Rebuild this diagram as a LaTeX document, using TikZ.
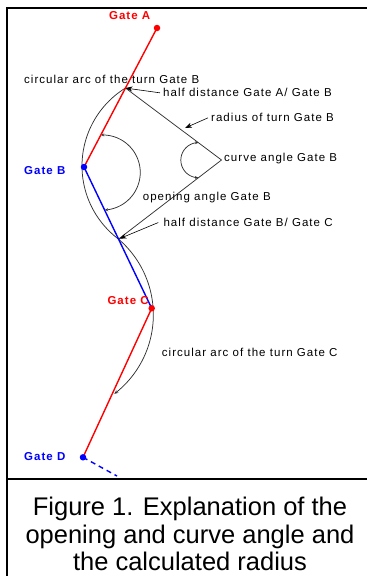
\documentclass[tikz,border=0pt]{standalone}
\usepackage{fontspec}
\setmainfont{Liberation Sans}
\newfontfamily\lblfont[LetterSpace=9]{Liberation Sans}
\usetikzlibrary{arrows.meta,calc}
\definecolor{gred}{RGB}{255,0,0}
\definecolor{gblue}{RGB}{0,0,255}
\definecolor{arcgray}{RGB}{50,50,50}
\begin{document}
\begin{tikzpicture}[x=1pt,y=-1pt,
  lbl/.style={anchor=mid west, inner sep=0pt, font=\fontsize{11.5}{13}\selectfont\lblfont},
  gatelbl/.style={inner sep=0pt, font=\fontsize{11.5}{13}\selectfont\lblfont\bfseries},
  gdot/.style={circle, inner sep=0pt, minimum size=6.5pt},
  route/.style={line width=1.4pt},
  arcline/.style={draw=arcgray, line width=0.75pt},
  ptr/.style={draw=black, line width=0.6pt, -{Stealth[length=7pt,width=5pt]}},
  angarc/.style={draw=arcgray, line width=0.75pt, {Stealth[length=3.5pt,width=3pt,open]}-{Stealth[length=3.5pt,width=3pt,open]}},
  capline/.style={anchor=base, inner sep=0pt, font=\fontsize{25.5}{28}\selectfont}
]
\useasboundingbox (0,0) rectangle (367,576);
% frame
\draw[line width=2pt] (7,576) -- (7,8) -- (367,8);
\draw[line width=2pt] (7,478.5) -- (367,478.5);

% key points
\coordinate (A) at (157,28);
\coordinate (B) at (84,167);
\coordinate (C) at (151.7,308.3);
\coordinate (D) at (83,457.3);
\coordinate (H1) at ($(A)!0.432!(B)$);
\coordinate (H2) at ($(B)!0.51!(C)$);
\coordinate (V) at (221.5,160);
\coordinate (dashend) at (117,476);
\coordinate (radtip) at (185,128);

% circular arcs of the turns
\draw[arcline] plot[domain=126.97:238.33, samples=80] ({173.57+91.57*cos(\x)},{165.94+91.57*sin(\x)});
\draw[arcline, -{Stealth[length=4pt,width=3.5pt,open]}] plot[domain=-49.4:52.5, samples=80] ({53.7+99.65*cos(\x)},{314.8+99.65*sin(\x)});

% radius lines
\draw[arcline] (H1) -- (V) -- (H2);

% angle arcs
\draw[angarc] plot[domain=90:270, samples=50] ({198.4+17.55*cos(\x)},{160.15+17.55*sin(\x)});
\draw[angarc] plot[domain=-92.9:87.1, samples=60] ({102.7+37.55*cos(\x)},{172.5+37.55*sin(\x)});

% route
\draw[gred, route] (A) -- (B);
\draw[gblue, route] (B) -- (C);
\draw[gred, route] (C) -- (D);
\draw[gblue, route, dash pattern=on 5pt off 4pt] (D) -- (dashend);

% gates
\node[gdot, fill=gred] (gA) at (A) {};
\node[gdot, fill=gblue] (gB) at (B) {};
\node[gdot, fill=gred] (gC) at (C) {};
\node[gdot, fill=gblue] (gD) at (D) {};

\node[gatelbl, text=gred] (tA) at (129.7,15.7) {Gate A};
\node[gatelbl, text=gblue, anchor=mid west] (tB) at (24,172.3) {Gate B};
\node[gatelbl, text=gred, anchor=mid west] (tC) at (107.3,302.3) {Gate C};
\node[gatelbl, text=gblue, anchor=mid west] (tD) at (24,458.3) {Gate D};

% labels
\node[lbl] (arcB) at (24,81) {circular arc of the turn Gate B};
\node[lbl] (hAB) at (163,94.3) {half distance Gate A/ Gate B};
\node[lbl] (rad) at (211,119.3) {radius of turn Gate B};
\node[lbl] (curv) at (224,159.3) {curve angle Gate B};
\node[lbl] (open) at (142.7,198.3) {opening angle Gate B};
\node[lbl] (hBC) at (163.3,224) {half distance Gate B/ Gate C};
\node[lbl] (arcC) at (161.7,354) {circular arc of the turn Gate C};

% pointers
\draw[ptr] ([xshift=-3pt]hAB.west) -- (H1);
\draw[ptr] ([xshift=-3pt]rad.west) -- (radtip);
\draw[ptr, shorten >=1pt] ([xshift=-5pt]hBC.west) -- (H2);

% caption
\node[capline] (cap1) at (190,515.5) {Figure 1. Explanation of the};
\node[capline] (cap2) at (190,543.5) {opening and curve angle and};
\node[capline] (cap3) at (190,570.5) {the calculated radius};
\end{tikzpicture}
\end{document}
